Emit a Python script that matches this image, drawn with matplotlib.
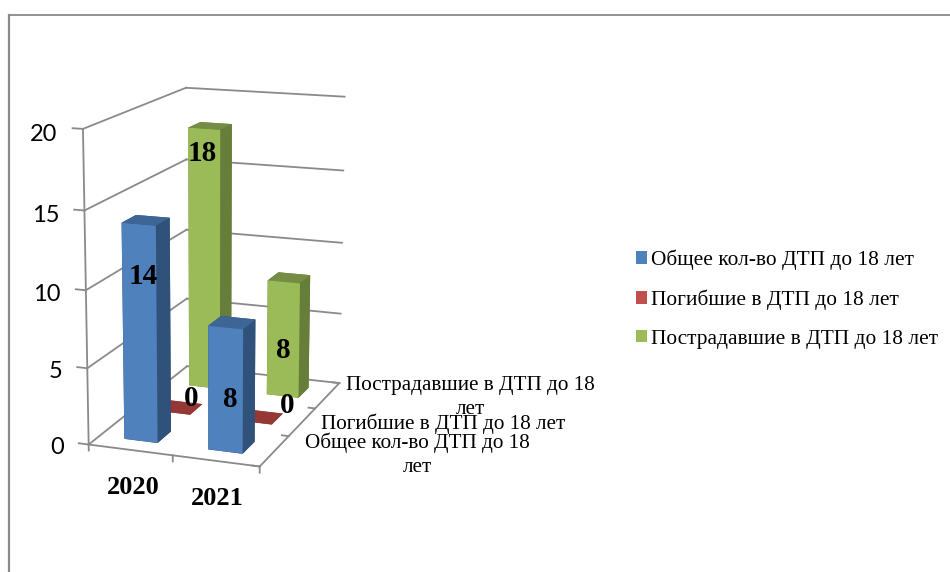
import matplotlib
matplotlib.use("Agg")
import matplotlib.pyplot as plt
from matplotlib.lines import Line2D
from matplotlib.patches import Patch

categories = ["2020", "2021"]
series_names = ["Общее кол-во ДТП до 18 лет", "Погибшие в ДТП до 18 лет", "Пострадавшие в ДТП до 18 лет"]
depth_labels = ["Общее кол-во ДТП до 18\nлет", "Погибшие в ДТП до 18 лет", "Пострадавшие в ДТП до 18\nлет"]
total = [14, 8]
killed = [0, 0]
injured = [18, 8]
values = [total, killed, injured]
z_ticks = [0, 5, 10, 15, 20]

front_colors = ["#4F81BD", "#C0504D", "#9BBB59"]
side_colors = ["#30527A", "#953735", "#677E3A"]
top_colors = ["#3D6696", "#953735", "#748C43"]
grid_color = "#8A8A8A"

# where the value labels sit, (x shift, y shift, height) per series and category
label_spots = [
    [(0.05, 0.3, 10.7), (0.06, 0.3, 3.45)],
    [(0.0, 0.85, 0), (0.2, 0.85, 0.3)],
    [(-0.03, 0.3, 16.3), (0.0, 0.3, 3.25)],
]
depth_label_x = [2.35, 2.23, 2.23]

plt.rcParams["font.family"] = ["Liberation Serif", "DejaVu Serif"]

fig = plt.figure(figsize=(9.5, 5.72), dpi=100)
size = 4.322
cx, cy = 0.226, 0.526
ax = fig.add_axes([cx - size / 2 / 9.5, cy - size / 2 / 5.72, size / 9.5, size / 5.72],
                  projection="3d", computed_zorder=False)
ax.set_xlim(0, 2, view_margin=0)
ax.set_ylim(0, 3, view_margin=0)
ax.set_zlim(0, 20, view_margin=0)
ax.view_init(elev=14.328, azim=-70.188, roll=-0.066)
ax.set_proj_type("persp", focal_length=0.769)
ax.set_box_aspect((1, 1.530, 1.771))
ax.set_axis_off()
ax.patch.set_alpha(0)

def line(xs, ys, zs):
    ax.plot(xs, ys, zs, color=grid_color, lw=1.3, zorder=1, clip_on=False)

# walls
for v in z_ticks:
    line([0, 0], [0, 3], [v, v])
    line([0, 2], [3, 3], [v, v])
    line([-0.12, 0], [0, 0], [v, v])
line([0, 0], [0, 0], [0, 20])
# floor
line([0, 2], [0, 0], [0, 0])
line([2, 2], [0, 3], [0, 0])
for i in range(3):
    line([i, i], [0, 0], [0, -0.4])
for j in range(4):
    line([2, 1.92], [j, j], [0, 0])

# back row first so the front bars cover it
for j in [2, 1, 0]:
    for i in range(len(categories)):
        v = values[j][i]
        faces = [side_colors[j], top_colors[j], front_colors[j], side_colors[j], side_colors[j], side_colors[j]]
        bar = ax.bar3d(i + 0.3, j + 0.3, 0, 0.4, 0.4, v, color=faces, shade=False, zorder=5 + (2 - j) * 2 + i * 0.1)
        bar.set_clip_on(False)

# data labels
for j in range(3):
    for i in range(len(categories)):
        dx, dy, z = label_spots[j][i]
        ax.text(i + 0.5 + dx, j + dy, z, str(values[j][i]), fontsize=21, fontweight="bold",
                ha="center", va="center", zorder=20)

# axis labels
for v in z_ticks:
    ax.text(-0.3, 0, v - 0.42, str(v), family=["Lato"], fontsize=17, ha="right", va="center", zorder=20)
for i, c in enumerate(categories):
    ax.text(i * 0.93 + 0.96, -1.0, 0, c, fontsize=19, fontweight="bold", ha="center", va="center", zorder=20)
for j, lab in enumerate(depth_labels):
    ax.text(depth_label_x[j], j + 0.5, 0, lab, fontsize=15.2, ha="left", va="center", ma="center",
            linespacing=1.3, zorder=20)

handles = [Patch(facecolor=c, edgecolor="none") for c in front_colors]
fig.legend(handles, series_names, loc="center left", bbox_to_anchor=(0.669, 0.477), frameon=False, fontsize=15.4,
           handlelength=0.52, handleheight=0.52, handletextpad=0.2, labelspacing=0.92, borderpad=0, borderaxespad=0)

# frame of the embedded chart, cropped at the right and bottom
fig.add_artist(Line2D([8.5 / 950, 1], [1 - 14.5 / 572] * 2, color=grid_color, lw=1.3))
fig.add_artist(Line2D([8.5 / 950] * 2, [1 - 14.5 / 572, 0], color=grid_color, lw=1.6))

fig.savefig("out.png", dpi=100)
